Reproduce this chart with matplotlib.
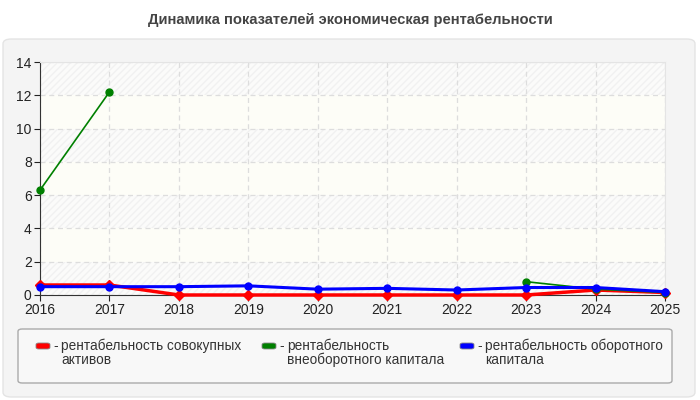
import numpy as np
import matplotlib.pyplot as plt
from matplotlib.patches import FancyBboxPatch

plt.rcParams['font.family'] = ['Liberation Sans', 'DejaVu Sans']

years = [2016, 2017, 2018, 2019, 2020, 2021, 2022, 2023, 2024, 2025]
total_assets = [0.6, 0.6, 0.0, 0.0, 0.0, 0.0, 0.0, 0.0, 0.3, 0.15]
fixed_capital = [6.3, 12.2, np.nan, np.nan, np.nan, np.nan, np.nan, 0.8, 0.35, 0.15]
working_capital = [0.5, 0.5, 0.5, 0.55, 0.35, 0.4, 0.3, 0.45, 0.45, 0.2]

labels = ['рентабельность совокупных\nактивов',
          'рентабельность\nвнеоборотного капитала',
          'рентабельность оборотного\nкапитала']
colors = ['#ff0000', '#008000', '#0000ff']

fig = plt.figure(figsize=(7, 4), dpi=100)
fig.patch.set_facecolor('white')

# outer gray panel
panel = FancyBboxPatch((3 / 700, 3 / 400), 692 / 700, 358 / 400,
                       boxstyle='round,pad=0,rounding_size=0.012',
                       transform=fig.transFigure, facecolor='#f4f4f4',
                       edgecolor='#e4e4e4', lw=1, zorder=0)
fig.patches.append(panel)

fig.text(0.5, 1 - 20 / 400, 'Динамика показателей экономическая рентабельности',
         ha='center', va='center', fontsize=10.6, fontweight='bold', color='#444444')

ax = fig.add_axes([40 / 700, 105 / 400, 625 / 700, 233 / 400])
ax.set_zorder(5)
ax.set_facecolor('#fdfdf7')
for i, lo in enumerate(range(0, 14, 2)):
    if i % 2 == 0:
        ax.axhspan(lo, lo + 2, facecolor='#fbfbfa', edgecolor='#f1f1f1', hatch='/////', lw=0, zorder=0)

series = [total_assets, fixed_capital, working_capital]
markers = ['D', 'o', 'o']
widths = [2.5, 1.2, 2.2]
for vals, c, m, w in zip(series, colors, markers, widths):
    ax.plot(years, vals, color=c, lw=w, marker=m, markersize=5, zorder=3, clip_on=False)

ax.set_xlim(2016, 2025)
ax.set_ylim(0, 14)
ax.set_xticks(years)
ax.set_yticks(range(0, 15, 2))
ax.grid(True, color='#dddddd', linestyle=(0, (4, 3)), lw=0.9)
ax.tick_params(labelsize=10, colors='#222222', length=4, width=0.8, pad=2)
for s in ['top', 'right']:
    ax.spines[s].set_color('#e4e4e4')
for s in ['left', 'bottom']:
    ax.spines[s].set_color('#333333')

# legend box
leg_box = FancyBboxPatch((18 / 700, 17 / 400), 654 / 700, 54 / 400,
                         boxstyle='round,pad=0,rounding_size=0.006',
                         transform=fig.transFigure, facecolor='#f8f8f8',
                         edgecolor='#aaaaaa', lw=1, zorder=1)
fig.patches.append(leg_box)
xs = [36, 262, 460]
for x, lab, c in zip(xs, labels, colors):
    fig.patches.append(FancyBboxPatch((x / 700, (400 - 349) / 400), 14 / 700, 6 / 400,
                                      boxstyle='round,pad=0,rounding_size=0.004',
                                      transform=fig.transFigure, facecolor=c,
                                      edgecolor='#888888', lw=0.6, zorder=2))
    fig.text((x + 17) / 700, 1 - 339 / 400, '-', ha='left', va='top',
             fontsize=9.8, color='#333333')
    fig.text((x + 25) / 700, 1 - 339 / 400, lab, ha='left', va='top',
             fontsize=9.8, color='#333333', linespacing=0.95)

fig.savefig('out.png', dpi=100, facecolor='white')
